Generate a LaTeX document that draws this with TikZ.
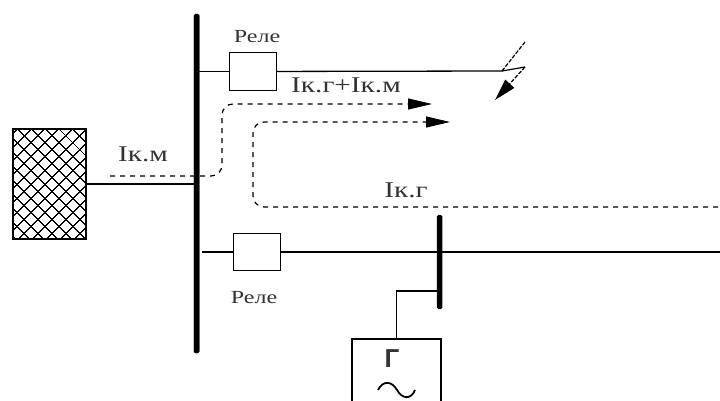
\documentclass[tikz,border=0pt]{standalone}
\usepackage{fontspec}
\setmainfont[FakeStretch=1.3]{Liberation Serif}
\newfontfamily\gensym{Liberation Sans}
\usetikzlibrary{positioning, arrows.meta, patterns.meta}
\tikzset{
    bus/.style={fill=black, inner sep=0pt, minimum width=5.5pt, rounded corners=1.5pt},
    relay/.style={draw, line width=1.3pt, inner sep=0pt, minimum width=47pt, minimum height=37.5pt},
    wire/.style={line width=1.3pt},
    fault/.style={line width=1.2pt, -{Triangle[length=22pt, width=12pt]}},
    current/.style={line width=1.2pt, dash pattern=on 5pt off 5pt, rounded corners=11pt, -{Triangle[length=24pt, width=11pt]}},
    caption/.style={font=\fontsize{18.5}{18.5}\selectfont, text=black!80, inner sep=0pt},
    amps/.style={font=\fontsize{22.5}{22.5}\selectfont, text=black!80, inner sep=0pt}
}

\begin{document}
\begin{tikzpicture}[x=1pt, y=-1pt]
            \clip (0,0) rectangle (720,401);
            % buses
            \node [bus, minimum height=339pt] (B1) at (196.5,183.5) {};
            \node [bus, minimum height=94pt] (B2) at (439.5,262) {};
            % network block
            \node [draw, line width=1.3pt, minimum width=73pt, minimum height=110pt, inner sep=0pt,
                pattern={Lines[angle=45, distance=10.5pt, line width=1.3pt]},
                postaction={pattern={Lines[angle=-45, distance=10.5pt, line width=1.3pt]}}] (S) at (49.5,184) {};
            % relays
            \node [relay] (R1) at (253,71.5) {};
            \node [relay] (R2) at (257,252) {};
            \node [caption, above=9pt of R1, xshift=4pt] (R1L) {Реле};
            \node [caption, below=20pt of R2, xshift=-3pt] (R2L) {Реле};
            % generator
            \node [draw, line width=1.3pt, minimum width=89pt, minimum height=90pt, inner sep=0pt] (G) at (396.5,384) {};
            \node [font=\gensym\bfseries\fontsize{26}{26}\selectfont, text=black!80, inner sep=0pt] (G1) at (392,359) {Г};
            % labels
            \node [amps] (I1) at (143,154) {Iк.м};
            \node [amps] (I2) at (346,85) {Iк.г+Iк.м};
            \node [amps] (I3) at (406,190) {Iк.г};

            \coordinate (P1) at (502,71);
            \coordinate (P2) at (202,252);
            \coordinate (P3) at (720,252);
            \coordinate (P4) at (396.5,291);
            \draw[wire] (S.east) -- (S.east -| B1.west);
            \draw[wire] (R1 -| B1.east) -- (R1);
            \draw[wire] (R1) -- (P1);
            \draw[wire] (P2) -- (R2);
            \draw[wire] (R2) -- (P3);
            \draw[wire] (B2.west |- P4) -- (P4) -- (G.north -| P4);

            % generator wave
            \draw[line width=1.8pt] (378,390) .. controls (383,380) and (392,381) .. (397,390) .. controls (402,399) and (411,400) .. (415,390);

            % fault mark
            \coordinate (F1) at (525,42);
            \coordinate (F2) at (525,67);
            \coordinate (F3) at (495,100);
            \draw[line width=1.2pt, dash pattern=on 4pt off 1.5pt] (F1) -- (P1);
            \draw[line width=1.2pt] (P1) -- (F2);
            \draw[fault, dash pattern=on 4pt off 1.5pt] (F2) -- (F3);

            % currents
            \coordinate (C1) at (110,176);
            \coordinate (C2) at (222,176);
            \coordinate (C3) at (222,104);
            \coordinate (C4) at (432,104);
            \coordinate (C5) at (718,207);
            \coordinate (C6) at (253,207);
            \coordinate (C7) at (253,122);
            \coordinate (C8) at (450,122);
            \draw[current] (C1) -- (C2) -- (C3) -- (C4);
            \draw[current] (C5) -- (C6) -- (C7) -- (C8);
            \node [bus, minimum height=339pt] at (B1) {};
        \end{tikzpicture}
\end{document}
